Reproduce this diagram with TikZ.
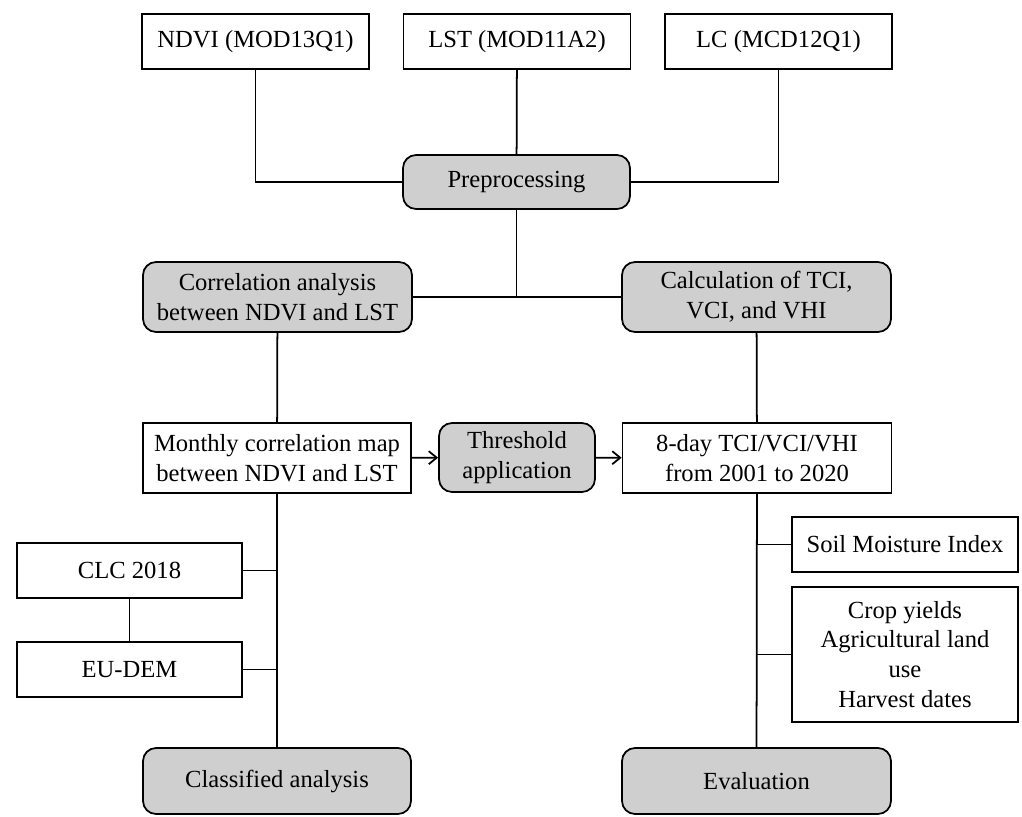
\documentclass[tikz,border=0pt]{standalone}
\usepackage{fontspec}
\setmainfont{Liberation Serif}
\usetikzlibrary{arrows.meta}

\begin{document}
\begin{tikzpicture}[x=0.02cm,y=-0.02cm]
    \tikzset{
    blk/.style={rectangle,draw,line width=1pt,fill=white,align=center,inner sep=2pt,
        font=\fontsize{14}{17}\selectfont},
    prc/.style={blk,rounded corners=0.26cm,fill=black!19},
    c1/.style={-,line width=1pt},
    c2/.style={c1,-{Straight Barb[length=1.6mm,width=2.6mm]}},
    }
    \useasboundingbox (0,0) rectangle (1022,816);

    \node[blk,minimum width=4.54cm,minimum height=1.1cm] (ndvi) at (255.5,41.5) {NDVI (MOD13Q1)};
    \node[blk,minimum width=4.54cm,minimum height=1.1cm] (lst) at (517,41.5) {LST (MOD11A2)};
    \node[blk,minimum width=4.54cm,minimum height=1.1cm] (lc) at (778.5,41.5) {LC (MCD12Q1)};
    \node[prc,minimum width=4.54cm,minimum height=1.08cm] (prep) at (516.5,182) {Preprocessing};

    \node[prc,minimum width=5.38cm,minimum height=1.4cm] (corr) at (277.5,297) {Correlation analysis\\between NDVI and LST};
    \node[prc,minimum width=5.38cm,minimum height=1.4cm] (calc) at (756.5,297) {Calculation of TCI,\\VCI, and VHI};

    \node[blk,minimum width=5.36cm,minimum height=1.4cm] (month) at (277,458) {Monthly correlation map\\between NDVI and LST};
    \node[prc,minimum width=3.12cm,minimum height=1.38cm] (thr) at (517,457.5) {Threshold\\application};
    \node[blk,minimum width=5.38cm,minimum height=1.4cm] (tvh) at (757,458) {8-day TCI/VCI/VHI\\from 2001 to 2020};

    \node[blk,minimum width=4.5cm,minimum height=1.1cm] (clc) at (129.5,570.5) {CLC 2018};
    \node[blk,minimum width=4.5cm,minimum height=1.1cm] (dem) at (129.5,669.5) {EU-DEM};
    \node[blk,minimum width=4.52cm,minimum height=1.1cm] (soil) at (905,544.5) {Soil Moisture Index};
    \node[blk,minimum width=4.52cm,minimum height=2.7cm] (crop) at (905,654.5) {Crop yields\\Agricultural land\\use\\Harvest dates};

    \node[prc,minimum width=5.36cm,minimum height=1.32cm] (clsf) at (277,781) {Classified analysis};
    \node[prc,minimum width=5.38cm,minimum height=1.32cm] (eval) at (756.5,781) {Evaluation};

    \draw[c1] (ndvi) |- (prep);
    \draw[c1] (lst) -- (prep);
    \draw[c1] (lc) |- (prep);
    \draw[c1] (corr) -- (calc);
    \draw[c1] (prep) -- (prep |- corr.east);
    \draw[c1] (corr) -- (month);
    \draw[c1] (calc) -- (tvh);
    \draw[c2] (month) -- (thr);
    \draw[c2] (thr) -- (tvh);
    \draw[c1] (month) -- (clsf);
    \draw[c1] (clc) -- (dem);
    \draw[c1] (clc) -- (clc -| month.south);
    \draw[c1] (dem) -- (dem -| month.south);
    \draw[c1] (tvh) -- (eval);
    \draw[c1] (soil) -- (soil -| tvh.south);
    \draw[c1] (crop) -- (crop -| tvh.south);
\end{tikzpicture}
\end{document}
